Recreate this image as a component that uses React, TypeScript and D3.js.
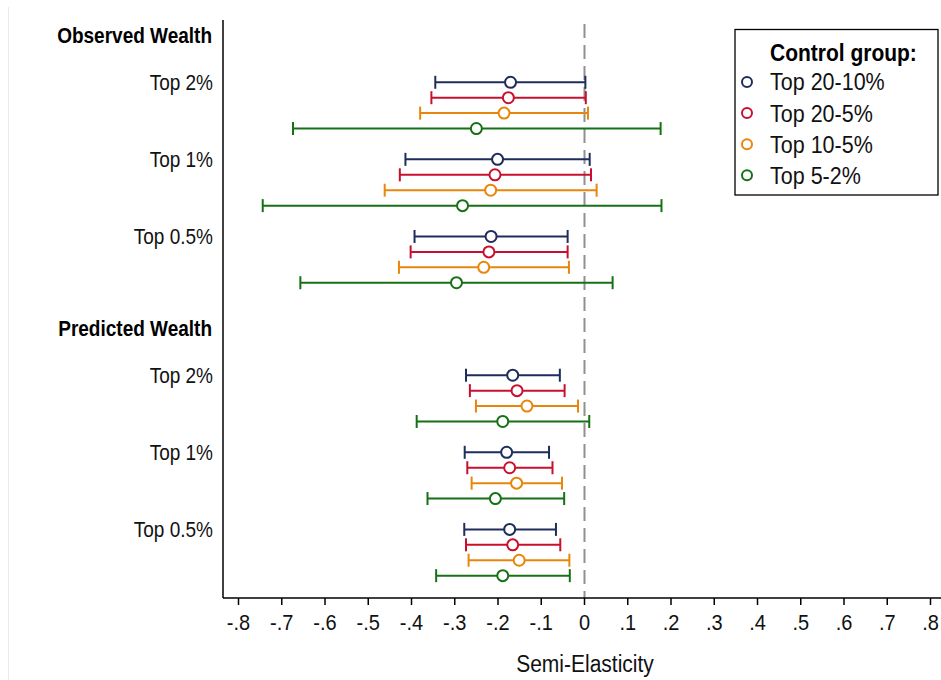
import React from "react";
import * as d3 from "d3";

const sections = ["Observed Wealth", "Predicted Wealth"];
const groups = ["Top 2%", "Top 1%", "Top 0.5%"];
const controls = ["Top 20-10%", "Top 20-5%", "Top 10-5%", "Top 5-2%"];
const colors = ["#1f2d5c", "#c8102e", "#e8860b", "#167016"];
const xTicks = [-0.8, -0.7, -0.6, -0.5, -0.4, -0.3, -0.2, -0.1, 0, 0.1, 0.2, 0.3, 0.4, 0.5, 0.6, 0.7, 0.8];
const xTickLabels = ["-.8", "-.7", "-.6", "-.5", "-.4", "-.3", "-.2", "-.1", "0", ".1", ".2", ".3", ".4", ".5", ".6", ".7", ".8"];

// order: Obs Top2, Obs Top1, Obs Top0.5, Pred Top2, Pred Top1, Pred Top0.5
const navyEst = [-0.171, -0.201, -0.216, -0.166, -0.180, -0.173];
const navyLo = [-0.345, -0.414, -0.393, -0.274, -0.277, -0.278];
const navyHi = [0.002, 0.012, -0.039, -0.057, -0.082, -0.066];
const redEst = [-0.176, -0.207, -0.221, -0.156, -0.173, -0.166];
const redLo = [-0.354, -0.427, -0.402, -0.265, -0.271, -0.274];
const redHi = [0.003, 0.015, -0.039, -0.046, -0.074, -0.056];
const orangeEst = [-0.186, -0.217, -0.233, -0.133, -0.157, -0.151];
const orangeLo = [-0.380, -0.462, -0.429, -0.251, -0.261, -0.268];
const orangeHi = [0.008, 0.028, -0.036, -0.015, -0.052, -0.035];
const greenEst = [-0.250, -0.282, -0.296, -0.189, -0.206, -0.189];
const greenLo = [-0.674, -0.744, -0.657, -0.388, -0.363, -0.343];
const greenHi = [0.176, 0.178, 0.065, 0.011, -0.047, -0.034];

const estSeries = [navyEst, redEst, orangeEst, greenEst];
const loSeries = [navyLo, redLo, orangeLo, greenLo];
const hiSeries = [navyHi, redHi, orangeHi, greenHi];

const FONT = "'Liberation Sans', Arial, Helvetica, sans-serif";

function T(props: {
  x: number;
  y: number;
  size: number;
  anchor?: string;
  bold?: boolean;
  sy?: number;
  children: React.ReactNode;
}) {
  const { x, y, size, anchor = "start", bold = false, sy = 1.13, children } = props;
  return (
    <text
      transform={`translate(${x},${y}) scale(1,${sy})`}
      x={0}
      y={0}
      textAnchor={anchor}
      dominantBaseline="central"
      fontSize={size}
      fontWeight={bold ? "bold" : "normal"}
      fill={bold ? "#000" : "#111"}
    >
      {children}
    </text>
  );
}

export default function App() {
  const x = d3.scaleLinear().domain([-0.8, 0.8]).range([238.5, 930.5]);
  const y = d3.scaleLinear().domain([-1.04, 36.45]).range([20, 598]);
  const axisLeft = 223;
  const axisBottom = 598;

  const rowIdx = (s: number, g: number, k: number) => s * 19 + 3 + g * 5 + k;

  const marks: React.ReactNode[] = [];
  sections.forEach((_, s) => {
    groups.forEach((_, g) => {
      controls.forEach((_, k) => {
        const i = s * 3 + g;
        const yy = y(rowIdx(s, g, k));
        const c = colors[k];
        const lo = x(loSeries[k][i]);
        const hi = x(hiSeries[k][i]);
        const est = x(estSeries[k][i]);
        marks.push(
          <g key={`m-${s}-${g}-${k}`}>
            <line x1={lo} x2={hi} y1={yy} y2={yy} stroke={c} strokeWidth={2} />
            <line x1={lo} x2={lo} y1={yy - 6.5} y2={yy + 6.5} stroke={c} strokeWidth={2} />
            <line x1={hi} x2={hi} y1={yy - 6.5} y2={yy + 6.5} stroke={c} strokeWidth={2} />
            <circle cx={est} cy={yy} r={5.5} fill="#fff" stroke={c} strokeWidth={2} />
          </g>
        );
      });
    });
  });

  return (
    <svg width={941} height={680} style={{ position: "absolute", left: 0, top: 0, background: "#fff" }} fontFamily={FONT}>
      <rect x={0} y={0} width={941} height={680} fill="#fff" />
      <line x1={8.5} x2={8.5} y1={7} y2={680} stroke="#e8ecec" strokeWidth={1} />
      {/* zero line */}
      <line x1={x(0)} x2={x(0)} y1={24} y2={axisBottom} stroke="#909090" strokeWidth={2} strokeDasharray="14 7" />
      {marks}
      {/* axes */}
      <line x1={axisLeft} x2={axisLeft} y1={20} y2={axisBottom} stroke="#000" strokeWidth={1.5} />
      <line x1={axisLeft} x2={941} y1={axisBottom} y2={axisBottom} stroke="#000" strokeWidth={1.5} />
      {xTicks.map((t, i) => (
        <g key={`t-${i}`}>
          <line x1={x(t)} x2={x(t)} y1={axisBottom} y2={axisBottom + 7} stroke="#000" strokeWidth={1.5} />
          <T x={x(t)} y={axisBottom + 25} size={20} anchor="middle">
            {xTickLabels[i]}
          </T>
        </g>
      ))}
      <T x={585} y={664} size={21} anchor="middle">
        Semi-Elasticity
      </T>
      {/* y labels */}
      {sections.map((sec, s) => (
        <T key={`sec-${s}`} x={212} y={y(s * 19)} size={19} anchor="end" bold>
          {sec}
        </T>
      ))}
      {sections.map((_, s) =>
        groups.map((gname, g) => (
          <T key={`g-${s}-${g}`} x={213} y={y(rowIdx(s, g, 0))} size={19} anchor="end">
            {gname}
          </T>
        ))
      )}
      {/* legend */}
      <rect x={735} y={29.5} width={203} height={165.5} fill="#fff" stroke="#000" strokeWidth={1.3} />
      <T x={770} y={53} size={21} bold>
        Control group:
      </T>
      {controls.map((cname, k) => (
        <g key={`l-${k}`}>
          <circle cx={747} cy={82 + k * 31.1} r={5} fill="#fff" stroke={colors[k]} strokeWidth={2} />
          <T x={770} y={82 + k * 31.1} size={21.5}>
            {cname}
          </T>
        </g>
      ))}
    </svg>
  );
}
